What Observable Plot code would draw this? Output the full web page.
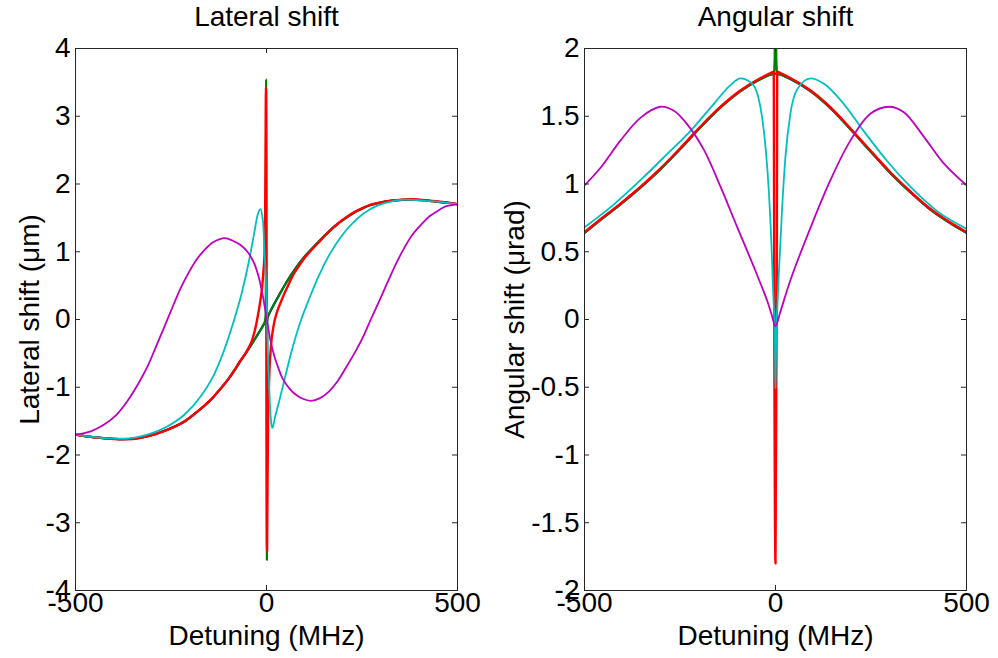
<!DOCTYPE html>
<html><head><meta charset="utf-8">
<script src="https://cdn.jsdelivr.net/npm/d3@7"></script>
<script src="https://cdn.jsdelivr.net/npm/@observablehq/plot@0.6"></script>
<style>
body{margin:0;background:#fff;}
#wrap{position:relative;width:998px;height:658px;display:flex;background:#fff;}
</style></head><body><div id="wrap"></div>
<script>
// ---------- Data ----------
const xTicks = [-500, 0, 500];
const latTicks = [-4,-3,-2,-1,0,1,2,3,4];
const angTicks = [-2,-1.5,-1,-0.5,0,0.5,1,1.5,2];

// Lateral shift
const latBlueX = [-500,-450,-400,-380,-350,-320,-290,-270,-240,-216,-190,-164,-140,-120,-100,-85,-70,-50,-35,-24,-10,0,10,24,33,45,59,72,86,100,120,140,164,186,208,230,251,273,295,325,356,380,408,435,461,480,500];
const latBlueY = [-1.70,-1.74,-1.76,-1.765,-1.76,-1.735,-1.69,-1.65,-1.58,-1.51,-1.40,-1.28,-1.15,-1.02,-0.88,-0.76,-0.63,-0.46,-0.33,-0.23,-0.10,0.0,0.12,0.27,0.36,0.48,0.61,0.72,0.83,0.93,1.05,1.17,1.30,1.41,1.50,1.58,1.64,1.69,1.72,1.75,1.765,1.77,1.76,1.745,1.73,1.72,1.70];

const latGreenX = [-500,-450,-400,-380,-350,-320,-290,-270,-240,-216,-190,-164,-140,-120,-100,-85,-70,-50,-35,-24,-10,-4,-2,-1,1,2,4,10,24,33,45,59,72,86,100,120,140,164,186,208,230,251,273,295,325,356,380,408,435,461,480,500];
const latGreenY = [-1.70,-1.74,-1.76,-1.765,-1.76,-1.735,-1.69,-1.65,-1.58,-1.51,-1.40,-1.28,-1.15,-1.02,-0.88,-0.76,-0.63,-0.46,-0.33,-0.23,-0.10,-0.02,0.12,3.55,-3.55,-0.05,0.05,0.12,0.27,0.36,0.48,0.61,0.72,0.83,0.93,1.05,1.17,1.30,1.41,1.50,1.58,1.64,1.69,1.72,1.75,1.765,1.77,1.76,1.745,1.73,1.72,1.70];

const latRedX = [-500,-450,-400,-380,-350,-320,-290,-270,-240,-216,-190,-164,-140,-120,-100,-85,-70,-55,-45,-37.5,-30,-20,-15,-11,-8,-5,-3.5,-2.5,-1.5,1.5,2.5,4,6,8,12,19,28,37,45,58,72,86,100,120,140,164,186,208,230,251,273,295,325,356,380,408,435,461,480,500];
const latRedY = [-1.70,-1.74,-1.765,-1.77,-1.765,-1.735,-1.69,-1.65,-1.58,-1.51,-1.40,-1.28,-1.15,-1.02,-0.88,-0.76,-0.62,-0.50,-0.40,-0.30,-0.15,0.14,0.32,0.50,0.72,1.0,1.6,2.5,3.42,-3.42,-2.5,-1.6,-1.05,-0.72,-0.37,-0.08,0.12,0.25,0.36,0.52,0.68,0.80,0.91,1.04,1.16,1.30,1.41,1.505,1.585,1.645,1.695,1.725,1.755,1.77,1.775,1.765,1.75,1.735,1.72,1.70];

const latCyanX = [-500,-426,-373,-312,-260,-216,-173,-138,-112,-86,-64,-46,-33,-23,-16,-11,-8,-5.5,-2.5,0,3.4,7,10,13,15.7,22,33,50,68,86,112,138,164,199,234,269,312,365,417,460,500];
const latCyanY = [-1.70,-1.75,-1.76,-1.70,-1.58,-1.41,-1.14,-0.82,-0.47,-0.03,0.41,0.86,1.25,1.55,1.63,1.52,1.35,1.0,0.7,0.3,-0.47,-1.0,-1.36,-1.55,-1.60,-1.45,-1.21,-0.82,-0.42,-0.08,0.31,0.66,0.95,1.25,1.47,1.62,1.72,1.77,1.75,1.73,1.70];

const latMagX = [-500,-460,-426,-395,-365,-338,-312,-290,-269,-247,-225,-203,-181,-160,-140,-120,-112,-95,-80,-68,-50,-33,-20,-10,0,10,20,30,42,60,77,95,116,140,164,185,207,230,251,273,295,317,338,360,382,405,426,450,469,500];
const latMagY = [-1.70,-1.65,-1.555,-1.42,-1.21,-0.97,-0.70,-0.41,-0.13,0.17,0.46,0.70,0.90,1.04,1.14,1.19,1.20,1.18,1.14,1.10,1.0,0.84,0.62,0.36,0.03,-0.30,-0.53,-0.70,-0.87,-1.02,-1.11,-1.17,-1.20,-1.16,-1.06,-0.92,-0.72,-0.50,-0.28,0.0,0.27,0.55,0.81,1.05,1.25,1.40,1.52,1.61,1.67,1.70];

// Angular shift
const angBlueX = [-500,-458,-406,-353,-301,-249,-196,-144,-92,-39,-13,0,13,39,92,144,196,249,301,353,406,458,500];
const angBlueY = [0.64,0.735,0.85,0.975,1.11,1.26,1.42,1.565,1.685,1.775,1.808,1.815,1.808,1.775,1.685,1.56,1.405,1.24,1.08,0.94,0.81,0.71,0.64];

const angGreenX = [-500,-458,-406,-353,-301,-249,-196,-144,-92,-39,-13,-4,-2,-1,1,2,4,13,39,92,144,196,249,301,353,406,458,500];
const angGreenY = [0.64,0.735,0.85,0.975,1.11,1.26,1.42,1.565,1.685,1.775,1.808,1.815,1.92,2.1,2.1,1.92,1.815,1.808,1.775,1.685,1.56,1.405,1.24,1.08,0.94,0.81,0.71,0.64];

const angRedX = [-500,-458,-406,-353,-301,-249,-196,-144,-92,-39,-13,-4.5,-4,-3.5,0,3.5,4,4.5,13,39,92,144,196,249,301,353,406,458,500];
const angRedY = [0.645,0.74,0.855,0.98,1.115,1.265,1.425,1.57,1.69,1.782,1.818,1.828,1.2,0.4,-1.8,0.4,1.2,1.828,1.818,1.782,1.69,1.565,1.41,1.245,1.085,0.945,0.815,0.715,0.645];

const angCyanX = [-500,-423,-353,-284,-223,-162,-118,-92,-65,-48,-35,-26,-17.5,-11,-6,-2,-1,0,1,2,5,8.7,17.5,26,39,57,92,127,179,231,292,353,423,500];
const angCyanY = [0.68,0.85,1.03,1.22,1.39,1.59,1.73,1.78,1.75,1.67,1.49,1.27,0.95,0.58,0.19,-0.1,-0.3,-0.51,-0.3,-0.1,0.1,0.34,0.83,1.20,1.52,1.70,1.78,1.74,1.59,1.39,1.17,0.98,0.80,0.67];

const angMagX = [-500,-458,-406,-353,-301,-266,-231,-187,-144,-100,-57,-22,-10,0,12,39,92,144,196,249,297,336,388,441,500];
const angMagY = [0.99,1.12,1.32,1.49,1.57,1.54,1.44,1.25,0.98,0.68,0.39,0.14,0.035,-0.05,0.05,0.29,0.68,1.03,1.32,1.52,1.57,1.53,1.35,1.15,0.99];

// ---------- Drawing ----------
const C = {blue:"#0000ff", green:"#008000", red:"#ff0000", cyan:"#00bfbf", magenta:"#bf00bf"};
const series = (xs, ys) => xs.map((x, i) => ({x, y: ys[i]}));
const FONT = "'Liberation Sans', Arial, Helvetica, sans-serif";
const AX = "#262626";

function panel({title, ylabel, yDomain, yTicks, lines, mL, mR, ylabDx}) {
  const W = 499 - mL - mR, H = 658 - 48 - 68;
  return Plot.plot({
    width: 499, height: 658,
    marginLeft: mL, marginRight: mR, marginTop: 48, marginBottom: 68,
    style: {fontFamily: FONT, background: "#fff", color: "#000", overflow: "visible"},
    x: {domain: [-500, 500]},
    y: {domain: yDomain},
    marks: [
      ...lines.map(l => Plot.line(series(l.x, l.y), {x: "x", y: "y", stroke: l.c, strokeWidth: l.w, curve: l.curve, clip: true})),
      Plot.frame({stroke: AX, strokeWidth: 1}),
      Plot.tickY(yTicks, {y: d => d, insetRight: W - 5, stroke: AX}),
      Plot.tickY(yTicks, {y: d => d, insetLeft: W - 5, stroke: AX}),
      Plot.tickX(xTicks, {x: d => d, insetBottom: H - 5, stroke: AX}),
      Plot.tickX(xTicks, {x: d => d, insetTop: H - 5, stroke: AX}),
      Plot.axisX({ticks: xTicks, tickSize: 0, tickPadding: 2, tickFormat: d => String(d), fontSize: 28, label: null}),
      Plot.axisY({ticks: yTicks, tickSize: 0, tickPadding: 5, tickFormat: d => String(d), fontSize: 28, label: null}),
      Plot.text([title], {frameAnchor: "top", dy: -31, lineAnchor: "middle", textAnchor: "middle", fontSize: 28}),
      Plot.text(["Detuning (MHz)"], {frameAnchor: "bottom", dy: 46, lineAnchor: "middle", textAnchor: "middle", fontSize: 28}),
      Plot.text([ylabel], {frameAnchor: "left", dx: ylabDx, rotate: -90, lineAnchor: "middle", textAnchor: "middle", fontSize: 28})
    ]
  });
}

const left = panel({
  title: "Lateral shift", ylabel: "Lateral shift (\u03bcm)",
  yDomain: [-4, 4], yTicks: latTicks, mL: 75, mR: 42, ylabDx: -45,
  lines: [
    {x: latBlueX, y: latBlueY, c: C.blue, w: 2.2, curve: "catmull-rom"},
    {x: latGreenX, y: latGreenY, c: C.green, w: 2.2, curve: "monotone-x"},
    {x: latRedX, y: latRedY, c: C.red, w: 2.4, curve: "monotone-x"},
    {x: latCyanX, y: latCyanY, c: C.cyan, w: 1.8, curve: "monotone-x"},
    {x: latMagX, y: latMagY, c: C.magenta, w: 1.8, curve: "catmull-rom"}
  ]
});
const right = panel({
  title: "Angular shift", ylabel: "Angular shift (\u03bcrad)",
  yDomain: [-2, 2], yTicks: angTicks, mL: 85, mR: 32, ylabDx: -69,
  lines: [
    {x: angBlueX, y: angBlueY, c: C.blue, w: 2.2, curve: "catmull-rom"},
    {x: angGreenX, y: angGreenY, c: C.green, w: 2.4, curve: "monotone-x"},
    {x: angRedX, y: angRedY, c: C.red, w: 2.4, curve: "monotone-x"},
    {x: angCyanX, y: angCyanY, c: C.cyan, w: 1.8, curve: "monotone-x"},
    {x: angMagX, y: angMagY, c: C.magenta, w: 1.8, curve: "catmull-rom"}
  ]
});
document.getElementById("wrap").append(left, right);
</script>
</body></html>
